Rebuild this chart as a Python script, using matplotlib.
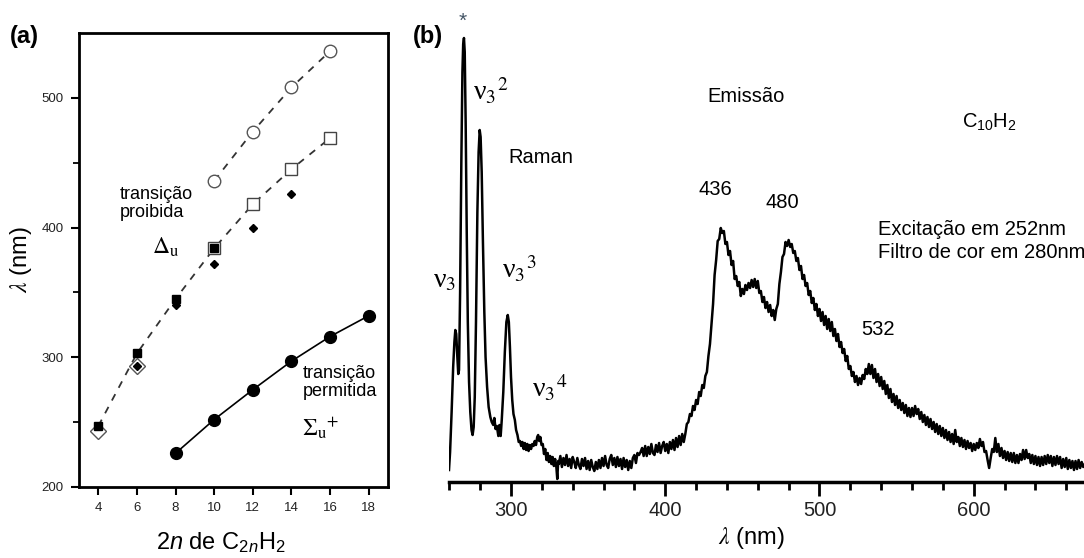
import matplotlib.pyplot as plt
import numpy as np

plt.rcParams['font.family'] = ['Liberation Sans', 'DejaVu Sans']
plt.rcParams['mathtext.fontset'] = 'custom'
plt.rcParams['mathtext.rm'] = 'Liberation Sans'
plt.rcParams['mathtext.it'] = 'Liberation Sans:italic'
plt.rcParams['mathtext.bf'] = 'Liberation Sans:bold'

# --- painel (a): comprimento de onda vs 2n ---
n_circ_open = [10, 12, 14, 16]
lam_circ_open = [436, 474, 508, 536]
n_sq_open = [10, 12, 14, 16]
lam_sq_open = [384, 418, 445, 469]
n_sq_fill = [4, 6, 8, 10]
lam_sq_fill = [247, 303, 345, 384]
n_dia_small = [6, 8, 10, 12, 14]
lam_dia_small = [293, 340, 372, 400, 426]
n_dia_open = [4, 6]
lam_dia_open = [243, 293]
n_allowed = [8, 10, 12, 14, 16, 18]
lam_allowed = [226, 252, 275, 297, 316, 332]

# --- painel (b): espectro C10H2 ---
raman_wl = [259.8, 260.5, 261.5, 262.5, 263.3, 263.9, 264.5, 265.2, 265.8, 266.3,
            267.0, 267.8, 268.5, 269.0, 269.5, 270.0, 270.6, 271.3, 272.0, 272.8,
            273.6, 274.4, 275.1, 275.8, 276.5, 277.3, 278.2, 279.0, 279.7, 280.3,
            281.0, 281.8, 282.7, 283.5, 284.5, 285.5, 286.6, 287.5, 288.5, 289.2,
            290.0, 290.8, 291.8, 292.5, 293.3, 294.0, 295.0, 296.0, 297.0, 297.9,
            298.6, 299.3, 300.0, 300.8, 301.6, 302.5, 303.3, 304.2, 305.0, 305.8,
            306.6, 307.4, 308.2, 309.0, 309.8, 310.6, 311.4, 312.2, 313.0, 313.8,
            314.6, 315.4, 316.2, 317.0, 317.6, 318.3, 319.0, 319.8, 320.6, 321.4,
            322.2, 323.0, 323.8, 324.6, 325.4, 326.2, 327.0, 327.8, 328.6, 329.4,
            330.0, 330.6]
raman_int = [12, 30, 70, 115, 140, 152, 148, 125, 108, 112,
             190, 320, 410, 438, 444, 430, 360, 250, 160, 100,
             70, 52, 47, 55, 85, 160, 270, 330, 352, 345,
             310, 240, 170, 125, 95, 75, 65, 60, 57, 64,
             53, 56, 46, 57, 46, 62, 90, 130, 160, 167,
             160, 135, 105, 82, 68, 62, 52, 47, 40, 41,
             36, 40, 33, 39, 32, 38, 31, 37, 33, 38,
             36, 41, 37, 45, 47, 41, 45, 37, 38, 28,
             33, 22, 29, 20, 26, 18, 25, 16, 23, 15,
             3, 21]
valley_int = [18, 26, 15, 24, 17, 27, 16, 23, 14, 25,
              20, 14, 24, 17, 13, 23, 16, 24, 13, 21,
              12, 22, 15, 11, 20, 13, 22, 14, 24, 16,
              26, 17, 14, 23, 27, 17, 24, 15, 25, 16,
              23, 13, 24, 15, 22, 12, 21, 14, 24, 27,
              19, 29, 27, 30, 34, 26, 36, 26, 35, 28,
              38, 29, 27, 37, 30, 39, 29, 36, 40, 31,
              38, 29, 40, 33, 42, 32, 44, 35, 46, 37,
              48, 40, 48, 58]
emis_int = [60, 68, 66, 76, 72, 82, 78, 90, 86, 97,
            94, 106, 110, 126, 138, 158, 178, 207, 222, 241,
            243, 254, 249, 251, 238, 240, 227, 231, 217, 221,
            203, 206, 196, 200, 186, 193, 188, 197, 192, 199,
            194, 202, 195, 203, 194, 201, 189, 191, 180, 185,
            174, 180, 170, 177, 166, 172, 162, 173, 178, 198,
            210, 225, 228, 240, 236, 242, 235, 238, 229, 231,
            221, 224, 212, 216, 203, 207, 196, 199, 187, 191,
            179, 184, 172, 178, 166, 173, 161, 170, 157, 166,
            153, 163, 151, 160, 146, 153, 141, 148, 135, 140,
            129, 133, 121, 126, 113, 116]
tail_int = [106, 110, 100, 106, 97, 104, 98, 107, 103, 113,
            108, 118, 108, 117, 104, 113, 100, 108, 96, 105,
            93, 101, 88, 97, 84, 93, 80, 88, 77, 86,
            74, 82, 72, 79, 69, 77, 66, 74, 65, 74,
            66, 76, 68, 73, 63, 70, 60, 67, 57, 65,
            55, 63, 53, 60, 50, 58, 48, 56, 46, 54,
            44, 52, 42, 50, 40, 48, 38, 52, 40, 45,
            36, 44, 35, 42, 33, 41, 34, 39, 31, 38,
            32, 39, 34, 43, 36, 40, 30, 31, 22, 14,
            24, 33, 30, 44, 30, 38, 26, 34, 24, 31,
            22, 30, 21, 29, 20, 29, 19, 27, 19, 28,
            22, 32, 23, 32, 24, 28, 19, 27, 18, 26,
            17, 25, 16, 25, 17, 26, 18, 27, 19, 26,
            16, 25, 17, 26, 18, 25, 14, 23, 15, 24,
            13, 22, 14, 21, 12, 21, 13, 22, 14, 20,
            15, 18]

valley_wl = np.arange(331, 331 + len(valley_int))
emis_wl = np.arange(valley_wl[-1] + 1, valley_wl[-1] + 1 + len(emis_int))
tail_wl = np.arange(emis_wl[-1] + 1, emis_wl[-1] + 1 + len(tail_int))

wl = np.concatenate([raman_wl, valley_wl, emis_wl, tail_wl])
inten = np.concatenate([raman_int, valley_int, emis_int, tail_int])

W, H = 1084, 558
fig = plt.figure(figsize=(W / 100, H / 100), dpi=100)

# ---------------- painel (a) ----------------
ax = fig.add_axes([79 / W, (H - 487) / H, 309 / W, 454 / H])
dash = (0, (4, 4))
ax.plot(n_circ_open, lam_circ_open, color='#333333', lw=1.3, ls=dash, zorder=1)
ax.plot(n_sq_fill + n_sq_open[1:], lam_sq_fill + lam_sq_open[1:],
        color='#333333', lw=1.3, ls=dash, zorder=1)
ax.plot(n_allowed, lam_allowed, color='black', lw=1.2, zorder=1)

ax.plot(n_circ_open, lam_circ_open, 'o', ms=9, mfc='white', mec='#555555', mew=1.0, ls='none')
ax.plot(n_sq_open, lam_sq_open, 's', ms=9, mfc='white', mec='#444444', mew=1.0, ls='none')
ax.plot(n_dia_open, lam_dia_open, 'D', ms=8, mfc='white', mec='#555555', mew=1.0, ls='none')
ax.plot(n_sq_fill, lam_sq_fill, 's', ms=5.5, color='black', ls='none', zorder=3)
ax.plot(n_dia_small, lam_dia_small, 'D', ms=4, color='black', ls='none', zorder=3)
ax.plot(n_allowed, lam_allowed, 'o', ms=8.5, color='black', ls='none', zorder=3)

ax.set_xlim(3, 19)
ax.set_ylim(200, 550)
ax.set_xticks(range(4, 19, 2))
ax.set_yticks([200, 300, 400, 500])
ax.set_yticks([250, 350, 450], minor=True)
ax.tick_params(which='major', direction='out', length=6, width=1.5, labelsize=9.5,
               labelcolor='#222222', pad=5)
ax.tick_params(which='minor', direction='out', length=4, width=1.3)
for s in ax.spines.values():
    s.set_linewidth(2)

ax.set_xlabel(r'2$n$ de C$_{2n}$H$_2$', fontsize=17)
ax.xaxis.set_label_coords(0.46, -0.095)
ax.set_ylabel(r'$\lambda$ (nm)', fontsize=17, math_fontfamily='stix')
ax.yaxis.set_label_coords(-0.145, 0.5)

ax.text(5.1, 432, 'transição\nproibida', fontsize=13, ha='left', va='top', linespacing=1.1)
ax.text(6.78, 380, r'$\Delta_\mathrm{u}$', fontsize=17, ha='left', va='baseline',
        math_fontfamily='stix')
ax.text(14.6, 294, 'transição\npermitida', fontsize=13, ha='left', va='top', linespacing=1.1)
ax.text(14.55, 240, r'$\Sigma_\mathrm{u}{}^{+}$', fontsize=17, ha='left', va='baseline',
        math_fontfamily='stix')

fig.text(10 / W, (H - 43) / H, '(a)', fontsize=17, fontweight='bold', ha='left', va='baseline')

# ---------------- painel (b) ----------------
bx = fig.add_axes([449 / W, (H - 482) / H, 635 / W, 477 / H])
bx.plot(wl, inten, color='black', lw=1.8)
bx.set_xlim(259.8, 671.5)
bx.set_ylim(0, 477)
for side in ['left', 'top', 'right']:
    bx.spines[side].set_visible(False)
bx.spines['bottom'].set_linewidth(2.5)
bx.set_yticks([])
bx.set_xticks([300, 400, 500, 600])
bx.set_xticks(np.arange(260, 672, 20), minor=True)
bx.tick_params(which='major', direction='out', length=10, width=2, labelsize=14.5,
               labelcolor='#222222', pad=4)
bx.tick_params(which='minor', direction='out', length=6, width=2)
bx.set_xlabel(r'$\lambda$ (nm)', fontsize=17, math_fontfamily='stix')
bx.xaxis.set_label_coords(0.477, -0.09)

nu_kw = dict(fontsize=20, ha='left', va='baseline', family='Liberation Serif',
             math_fontfamily='stix')
bx.text(268.9, 461, '*', fontsize=15, ha='center', va='center', color='#445566')
bx.text(275.4, 382, r'ν$_3{}^2$', **nu_kw)
bx.text(249.4, 195, r'ν$_3$', **nu_kw)
bx.text(294.2, 204, r'ν$_3{}^3$', **nu_kw)
bx.text(313.6, 85, r'ν$_3{}^4$', **nu_kw)

lab_kw = dict(fontsize=14.5, ha='left', va='baseline')
bx.text(298.1, 319, 'Raman', **lab_kw)
bx.text(427.1, 380, 'Emissão', **lab_kw)
bx.text(421.3, 287, '436', **lab_kw)
bx.text(465.3, 274, '480', **lab_kw)
bx.text(526.9, 147, '532', **lab_kw)
bx.text(592.4, 354, r'C$_{10}$H$_2$', **lab_kw)
bx.text(538, 262, 'Excitação em 252nm\nFiltro de cor em 280nm', fontsize=14.5,
        ha='left', va='top', linespacing=1.25)

fig.text(413 / W, (H - 43) / H, '(b)', fontsize=17, fontweight='bold', ha='left', va='baseline')

fig.savefig('out.png', dpi=100)
